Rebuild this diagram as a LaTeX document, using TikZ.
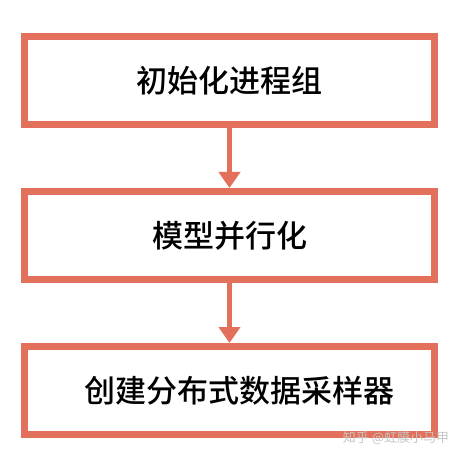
\documentclass[tikz,border=0pt]{standalone}
\usepackage{fontspec}
\newfontfamily\cjk{Noto Sans CJK SC}[BoldFont={Noto Sans CJK SC Medium}]
\usetikzlibrary{arrows.meta,positioning}
\definecolor{boxred}{HTML}{E2705A}

\begin{document}
\begin{tikzpicture}[x=1pt,y=1pt,node distance=60pt]
          \tikzstyle{stagebox}=[draw=boxred,line width=7pt,fill=white,minimum width=410pt,minimum height=88pt,font=\cjk\bfseries\fontsize{31}{31}\selectfont]
          \tikzstyle{flow}=[draw=boxred,line width=4.5pt,-{Triangle[width=21pt,length=16pt]}]
          \useasboundingbox (0,0) rectangle (465,458);
          \node[stagebox] (init) at (229.5,377.5) {初始化进程组};
          \node[stagebox,below=of init] (model) {模型并行化};
          \node[stagebox,below=of model] (sampler) {\hspace*{20pt}创建分布式数据采样器};
          \draw[flow] (init) -- (model);
          \draw[flow] (model) -- (sampler);
          \node[font=\cjk\fontsize{13}{13}\selectfont,text=gray!45] (mark) at (396,20) {知乎 @虹膜小马甲};
      \end{tikzpicture}
\end{document}
